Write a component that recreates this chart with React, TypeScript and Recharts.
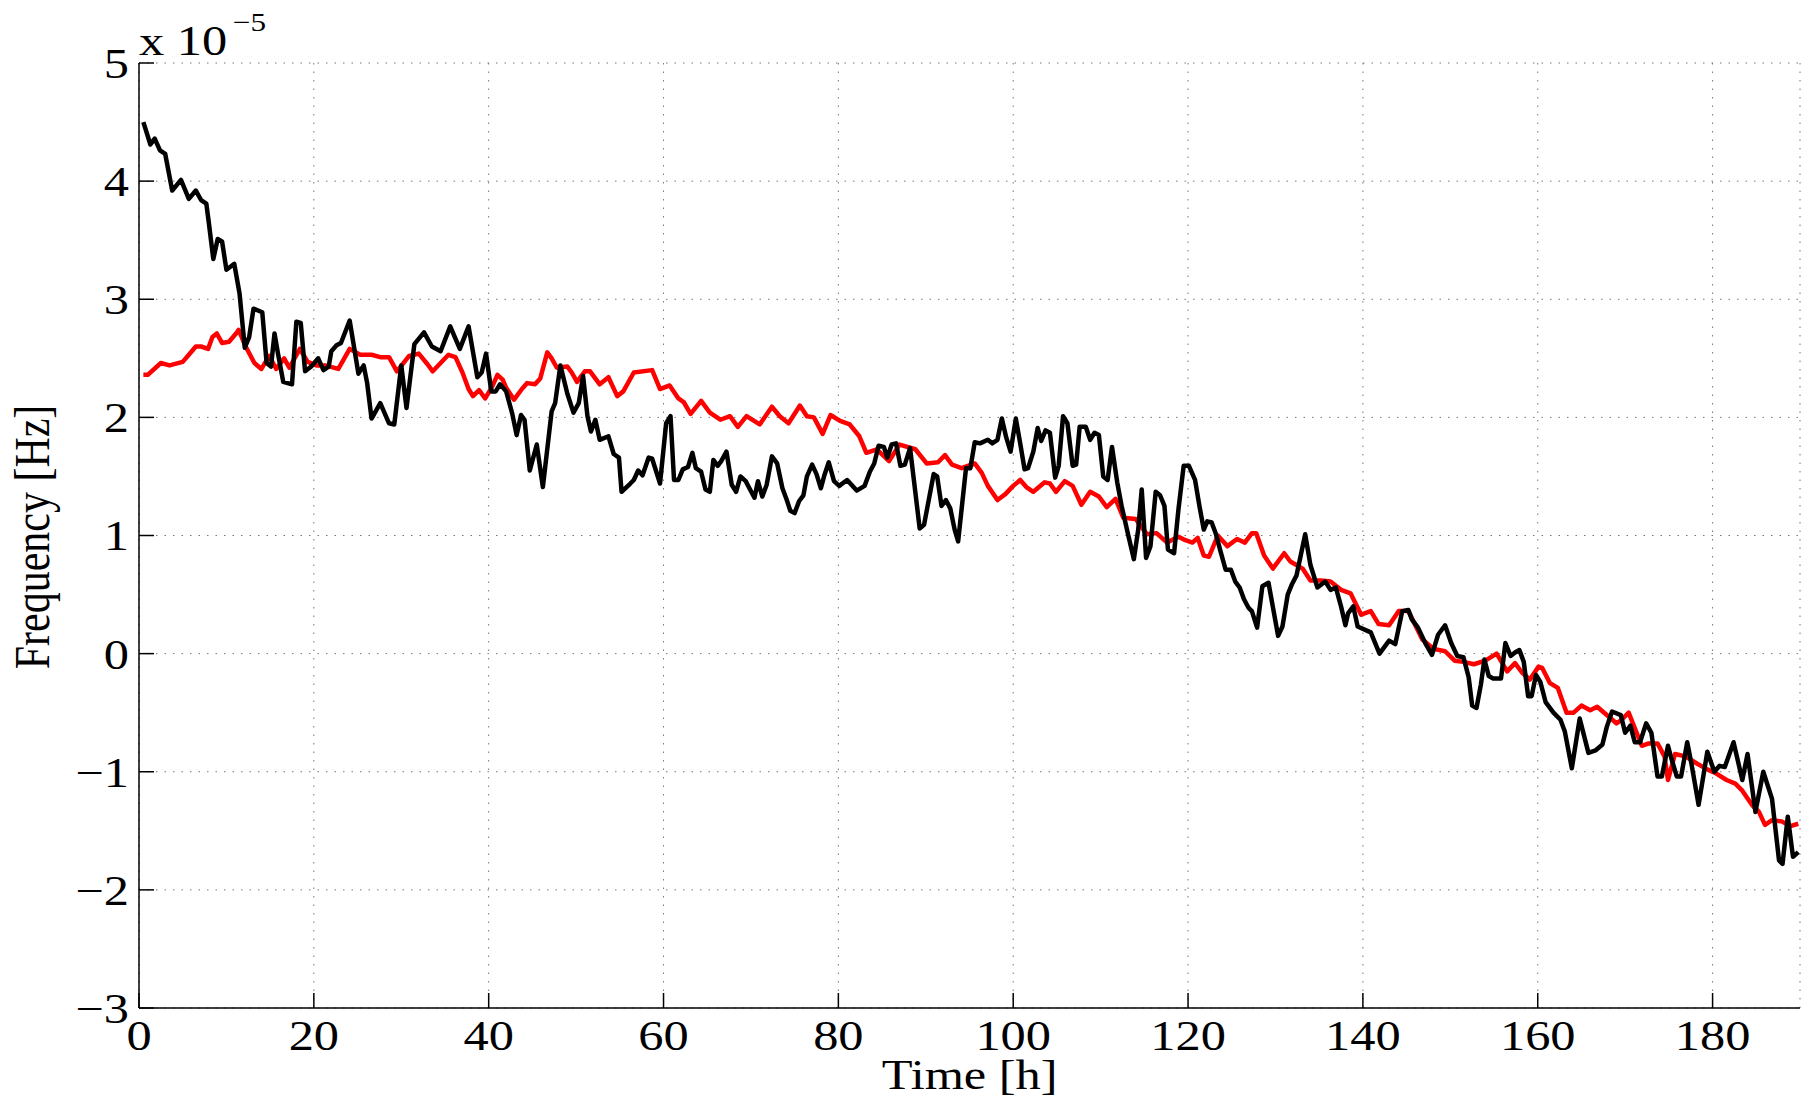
import { LineChart, Line, XAxis, YAxis, CartesianGrid } from 'recharts';

const FONT = '"Liberation Serif", "Times New Roman", serif';

const X_TICKS = [0, 20, 40, 60, 80, 100, 120, 140, 160, 180];
const Y_TICKS = [-3, -2, -1, 0, 1, 2, 3, 4, 5];

// measured series (time [h], frequency [x1e-5 Hz])
const blackSeries: [number, number][] = [
  [0.5, 4.5], [1.3, 4.31], [1.8, 4.36], [2.4, 4.26], [3.0, 4.23], [3.8, 3.92], [4.8, 4.01], [5.7, 3.85], [6.5, 3.92], [7.1, 3.84],
  [7.7, 3.81], [8.0, 3.64], [8.5, 3.34], [9.0, 3.51], [9.5, 3.49], [10.0, 3.25], [10.9, 3.3], [11.5, 3.05], [12.1, 2.59], [12.6, 2.68],
  [13.1, 2.92], [14.1, 2.89], [14.6, 2.46], [15.1, 2.43], [15.5, 2.71], [15.9, 2.54], [16.5, 2.3], [17.5, 2.28], [18.0, 2.81], [18.5, 2.8],
  [19.0, 2.39], [19.7, 2.43], [20.5, 2.5], [21.1, 2.4], [21.7, 2.43], [22.0, 2.56], [22.6, 2.61], [23.1, 2.63], [24.1, 2.82], [25.1, 2.37],
  [25.7, 2.44], [26.1, 2.29], [26.6, 1.99], [27.6, 2.12], [28.6, 1.95], [29.2, 1.94], [30.0, 2.44], [30.6, 2.08], [31.5, 2.62], [32.6, 2.72],
  [33.5, 2.6], [34.5, 2.56], [35.6, 2.77], [36.7, 2.58], [37.7, 2.77], [38.7, 2.34], [39.2, 2.38], [39.7, 2.54], [40.3, 2.22], [40.8, 2.22],
  [41.3, 2.28], [42.0, 2.22], [42.7, 2.03], [43.2, 1.85], [43.7, 2.02], [44.1, 1.98], [44.7, 1.55], [45.5, 1.77], [46.2, 1.41], [47.2, 2.05],
  [47.6, 2.12], [48.2, 2.44], [49.0, 2.2], [49.7, 2.04], [50.3, 2.12], [50.8, 2.35], [51.3, 2.01], [51.7, 1.88], [52.2, 1.98], [52.7, 1.81],
  [53.7, 1.84], [54.3, 1.69], [54.9, 1.66], [55.2, 1.37], [56.2, 1.44], [56.6, 1.47], [57.1, 1.55], [57.6, 1.51], [58.3, 1.66], [58.7, 1.65],
  [59.6, 1.44], [60.3, 1.95], [60.8, 2.01], [61.2, 1.47], [61.7, 1.47], [62.2, 1.56], [62.8, 1.58], [63.3, 1.7], [63.7, 1.57], [64.3, 1.54],
  [64.8, 1.39], [65.3, 1.37], [65.7, 1.64], [66.2, 1.59], [66.6, 1.63], [67.2, 1.71], [67.8, 1.43], [68.3, 1.37], [68.8, 1.5], [69.4, 1.46],
  [69.9, 1.39], [70.4, 1.32], [70.8, 1.46], [71.3, 1.33], [71.8, 1.43], [72.4, 1.67], [73.0, 1.61], [73.6, 1.4], [74.1, 1.3], [74.5, 1.21],
  [75.0, 1.19], [75.5, 1.29], [76.0, 1.34], [76.4, 1.5], [77.0, 1.6], [77.5, 1.52], [78.0, 1.4], [78.4, 1.51], [78.9, 1.62], [79.5, 1.46],
  [80.1, 1.42], [81.0, 1.47], [82.1, 1.38], [83.0, 1.42], [83.6, 1.54], [84.1, 1.61], [84.6, 1.76], [85.2, 1.75], [85.6, 1.66], [86.1, 1.77],
  [86.6, 1.78], [87.1, 1.59], [87.6, 1.6], [88.2, 1.74], [89.3, 1.06], [89.8, 1.09], [90.9, 1.52], [91.3, 1.5], [91.8, 1.25], [92.3, 1.3],
  [92.8, 1.23], [93.3, 1.05], [93.7, 0.95], [94.6, 1.57], [95.1, 1.57], [95.6, 1.79], [96.2, 1.78], [97.1, 1.81], [97.6, 1.78], [98.2, 1.81],
  [98.7, 1.99], [99.2, 1.83], [99.7, 1.71], [100.3, 1.99], [100.8, 1.78], [101.3, 1.56], [101.7, 1.57], [102.3, 1.71], [102.8, 1.91], [103.2, 1.8],
  [103.7, 1.89], [104.2, 1.87], [104.8, 1.49], [105.2, 1.59], [105.7, 2.01], [106.2, 1.95], [106.8, 1.59], [107.2, 1.6], [107.6, 1.92], [108.3, 1.92],
  [108.8, 1.81], [109.3, 1.87], [109.8, 1.85], [110.3, 1.5], [110.8, 1.47], [111.3, 1.75], [111.9, 1.45], [112.4, 1.25], [113.2, 0.99], [113.8, 0.8],
  [114.3, 1.05], [114.7, 1.39], [115.2, 0.81], [115.7, 0.91], [116.3, 1.37], [116.8, 1.34], [117.3, 1.25], [117.7, 0.88], [118.4, 0.85], [118.9, 1.22],
  [119.5, 1.59], [120.1, 1.59], [120.8, 1.47], [121.3, 1.25], [121.8, 1.05], [122.2, 1.12], [122.7, 1.11], [123.2, 1.01], [123.7, 0.87], [124.3, 0.71],
  [124.9, 0.71], [125.4, 0.61], [125.9, 0.56], [126.4, 0.46], [126.9, 0.39], [127.3, 0.36], [127.9, 0.22], [128.5, 0.57], [129.2, 0.6], [130.3, 0.15],
  [130.8, 0.23], [131.4, 0.5], [131.9, 0.59], [132.4, 0.66], [133.4, 1.01], [134.0, 0.75], [134.8, 0.56], [135.7, 0.61], [136.3, 0.54], [136.9, 0.56],
  [137.5, 0.4], [138.0, 0.24], [138.3, 0.34], [138.9, 0.4], [139.4, 0.23], [140.9, 0.18], [141.9, 0.0], [143.0, 0.11], [143.7, 0.08], [144.5, 0.36],
  [145.2, 0.37], [145.6, 0.29], [146.3, 0.22], [147.2, 0.08], [147.9, -0.01], [148.6, 0.16], [149.4, 0.24], [150.1, 0.09], [150.8, -0.02], [151.5, -0.03],
  [152.1, -0.2], [152.5, -0.44], [153.0, -0.46], [153.5, -0.26], [153.9, -0.05], [154.4, -0.19], [154.9, -0.21], [155.8, -0.21], [156.3, 0.09], [156.9, -0.02],
  [157.4, 0.01], [157.9, 0.03], [158.4, -0.07], [158.9, -0.36], [159.3, -0.36], [159.8, -0.18], [160.3, -0.24], [160.9, -0.41], [161.8, -0.5], [162.6, -0.56],
  [163.1, -0.66], [163.9, -0.97], [164.8, -0.55], [165.8, -0.84], [166.6, -0.82], [167.4, -0.77], [167.9, -0.62], [168.5, -0.49], [169.5, -0.52], [170.0, -0.67],
  [170.6, -0.61], [171.1, -0.75], [171.7, -0.75], [172.4, -0.59], [173.0, -0.67], [173.7, -1.04], [174.2, -1.04], [174.9, -0.78], [175.3, -0.89], [175.9, -1.04],
  [176.4, -1.04], [177.1, -0.75], [177.6, -0.94], [178.4, -1.28], [179.4, -0.83], [180.2, -1.0], [180.8, -0.95], [181.4, -0.96], [182.4, -0.75], [183.4, -1.07],
  [184.0, -0.85], [184.9, -1.34], [185.8, -1.0], [186.8, -1.23], [187.6, -1.75], [188.0, -1.78], [188.6, -1.38], [189.2, -1.72], [189.8, -1.68],
];

const redSeries: [number, number][] = [
  [0.5, 2.36], [1.0, 2.36], [2.5, 2.46], [3.5, 2.44], [5.0, 2.47], [5.7, 2.53], [6.5, 2.6], [7.1, 2.6], [7.9, 2.58], [8.4, 2.68],
  [8.9, 2.71], [9.5, 2.63], [10.3, 2.64], [11.1, 2.71], [11.4, 2.74], [12.2, 2.6], [13.2, 2.46], [14.0, 2.41], [14.9, 2.52], [15.7, 2.41],
  [16.6, 2.5], [17.2, 2.42], [18.4, 2.58], [19.3, 2.47], [20.3, 2.44], [21.3, 2.44], [22.8, 2.41], [24.1, 2.58], [25.3, 2.53], [26.6, 2.53],
  [27.6, 2.51], [28.6, 2.51], [29.5, 2.39], [30.9, 2.52], [32.0, 2.54], [33.0, 2.45], [33.6, 2.39], [34.5, 2.46], [35.4, 2.53], [36.2, 2.51],
  [37.0, 2.38], [37.7, 2.24], [38.2, 2.18], [38.9, 2.23], [39.6, 2.16], [40.4, 2.26], [41.0, 2.36], [41.6, 2.32], [42.0, 2.25], [42.9, 2.15],
  [43.8, 2.24], [44.4, 2.29], [45.3, 2.28], [45.9, 2.33], [46.7, 2.55], [47.2, 2.5], [47.8, 2.42], [49.0, 2.43], [49.5, 2.38], [50.1, 2.3],
  [51.0, 2.39], [51.6, 2.39], [52.7, 2.28], [53.7, 2.34], [54.7, 2.18], [55.4, 2.22], [56.6, 2.38], [58.7, 2.4], [59.6, 2.24], [60.7, 2.27],
  [61.7, 2.16], [62.3, 2.13], [63.1, 2.03], [64.3, 2.14], [65.3, 2.04], [66.5, 1.98], [67.6, 2.01], [68.5, 1.92], [69.5, 2.01], [71.0, 1.94],
  [72.4, 2.09], [73.3, 2.01], [74.3, 1.95], [75.6, 2.1], [76.4, 2.01], [77.2, 2.0], [78.2, 1.86], [79.1, 2.02], [80.2, 1.97], [81.3, 1.94],
  [82.4, 1.84], [83.2, 1.7], [84.4, 1.73], [85.8, 1.63], [87.0, 1.77], [88.8, 1.73], [90.1, 1.61], [91.4, 1.62], [92.2, 1.68], [93.0, 1.6],
  [94.1, 1.57], [95.6, 1.61], [96.4, 1.53], [97.1, 1.42], [98.2, 1.3], [99.1, 1.35], [100.0, 1.42], [100.8, 1.47], [101.5, 1.41], [102.3, 1.37],
  [103.6, 1.45], [104.2, 1.44], [104.9, 1.37], [105.9, 1.46], [106.8, 1.42], [107.8, 1.26], [108.8, 1.37], [109.8, 1.33], [110.7, 1.24], [111.7, 1.31],
  [112.6, 1.15], [114.0, 1.14], [115.3, 1.01], [116.4, 1.02], [117.6, 0.94], [118.9, 0.99], [119.7, 0.96], [120.5, 0.94], [121.1, 0.98], [121.8, 0.83],
  [122.4, 0.82], [123.4, 1.0], [124.5, 0.91], [125.6, 0.97], [126.5, 0.94], [127.3, 1.02], [127.8, 1.02], [128.7, 0.83], [129.7, 0.72], [131.0, 0.85],
  [131.7, 0.78], [133.1, 0.72], [134.0, 0.62], [135.2, 0.62], [136.3, 0.61], [137.5, 0.54], [138.6, 0.51], [139.8, 0.33], [140.9, 0.36], [141.8, 0.25],
  [143.0, 0.24], [144.1, 0.36], [145.2, 0.36], [146.8, 0.12], [148.1, 0.04], [149.4, 0.02], [150.5, -0.06], [151.5, -0.07], [152.7, -0.09], [154.0, -0.06],
  [155.3, 0.0], [156.5, -0.15], [157.4, -0.08], [158.2, -0.16], [159.1, -0.22], [160.1, -0.11], [160.5, -0.12], [161.4, -0.25], [162.3, -0.29], [163.3, -0.5],
  [164.1, -0.5], [165.0, -0.44], [166.0, -0.48], [166.8, -0.45], [167.9, -0.52], [169.0, -0.59], [169.6, -0.56], [170.4, -0.5], [171.1, -0.63], [171.9, -0.78],
  [172.7, -0.76], [173.7, -0.76], [174.5, -0.87], [174.9, -1.07], [175.7, -0.85], [176.9, -0.87], [178.2, -0.93], [179.4, -0.98], [180.3, -1.01], [181.6, -1.07],
  [182.6, -1.1], [183.4, -1.16], [184.5, -1.28], [185.3, -1.34], [186.0, -1.45], [186.8, -1.41], [187.9, -1.42], [188.9, -1.46], [189.8, -1.44],
];

const blackData = blackSeries.map(([t, v]) => ({ t, v }));
const redData = redSeries.map(([t, v]) => ({ t, v }));

const fmtY = (v: number) => (v < 0 ? '\u2212' + Math.abs(v) : String(v));

const XTick = (props: any) => {
  const { x, y, payload } = props;
  return (
    <text transform={`translate(${x},${y}) scale(1.2,1)`} textAnchor="middle" dy="0.71em" fontSize={42} fontFamily={FONT} fill="#000">
      {payload.value}
    </text>
  );
};

const YTick = (props: any) => {
  const { x, y, payload } = props;
  return (
    <text transform={`translate(${x},${y}) scale(1.2,1)`} textAnchor="end" dy="0.355em" fontSize={42} fontFamily={FONT} fill="#000">
      {fmtY(payload.value)}
    </text>
  );
};

const axisStroke = { stroke: '#000', strokeWidth: 1.5 };

export default function App() {
  return (
    <div style={{ position: 'fixed', top: 0, left: 0, width: 1810, height: 1097, background: '#fff' }}>
      <LineChart width={1810} height={1097} margin={{ top: 63, right: 10, bottom: 0, left: 0 }}>
        <CartesianGrid xAxisId="b" yAxisId="l" stroke="#777" strokeDasharray="1.5 7" />
        <XAxis xAxisId="b" dataKey="t" type="number" domain={[0, 190]} ticks={X_TICKS} height={89}
          tickSize={-15} tickMargin={27} tick={<XTick />} axisLine={axisStroke} tickLine={axisStroke} allowDataOverflow />
        <XAxis xAxisId="t" orientation="top" dataKey="t" type="number" domain={[0, 190]} ticks={X_TICKS} height={0}
          tickSize={-15} tick={false} axisLine={axisStroke} tickLine={axisStroke} />
        <YAxis yAxisId="l" type="number" domain={[-3, 5]} ticks={Y_TICKS} width={139}
          tickSize={-15} tickMargin={25} tick={<YTick />} axisLine={axisStroke} tickLine={axisStroke} allowDataOverflow />
        <YAxis yAxisId="r" orientation="right" type="number" domain={[-3, 5]} ticks={Y_TICKS} width={0}
          tickSize={-15} tick={false} axisLine={axisStroke} tickLine={axisStroke} />
        <Line xAxisId="b" yAxisId="l" data={redData} dataKey="v" type="linear" stroke="#ff0000" strokeWidth={4.5}
          dot={false} strokeLinejoin="round" isAnimationActive={false} />
        <Line xAxisId="b" yAxisId="l" data={blackData} dataKey="v" type="linear" stroke="#000" strokeWidth={4.5}
          dot={false} strokeLinejoin="round" isAnimationActive={false} />
      </LineChart>
      <svg width={1810} height={1097} style={{ position: 'absolute', top: 0, left: 0, pointerEvents: 'none' }}>
        <text transform="translate(139,55) scale(1.2,1)" fontSize={42} fontFamily={FONT} fill="#000">x 10</text>
        <text transform="translate(233,31) scale(1.2,1)" fontSize={26} fontFamily={FONT} fill="#000">{'\u2212'}5</text>
        <text transform="translate(969.6,1089) scale(1.2,1)" textAnchor="middle" fontSize={42} fontFamily={FONT} fill="#000">Time [h]</text>
        <text transform="translate(49,537) scale(1.2,1) rotate(-90)" textAnchor="middle" fontSize={42} fontFamily={FONT} fill="#000">Frequency [Hz]</text>
      </svg>
    </div>
  );
}
